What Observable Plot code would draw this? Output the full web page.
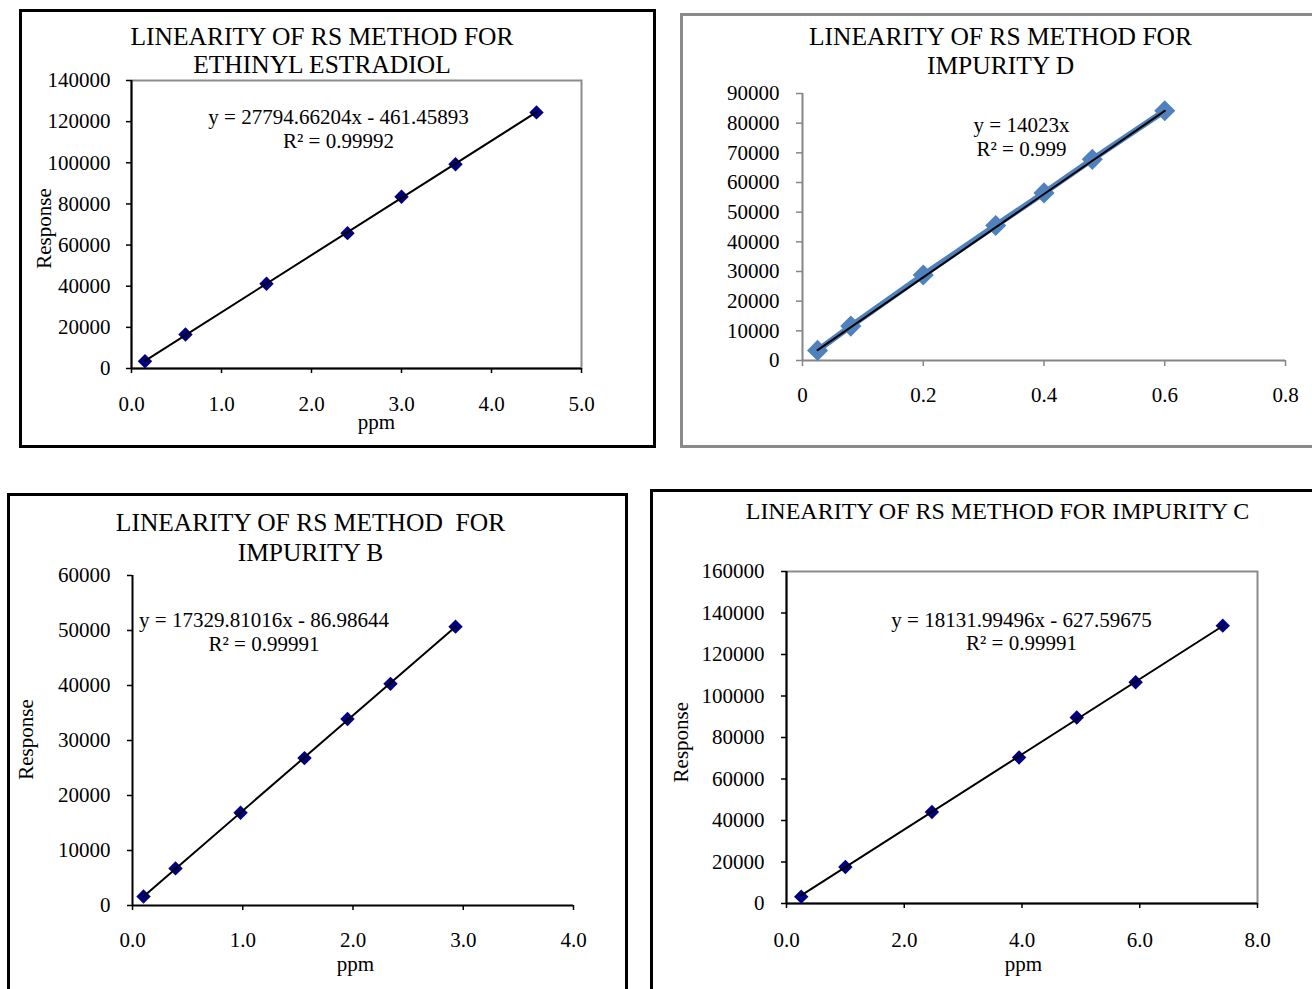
<!DOCTYPE html>
<html><head><meta charset="utf-8">
<script src="https://cdn.jsdelivr.net/npm/d3@7"></script>
<script src="https://cdn.jsdelivr.net/npm/@observablehq/plot@0.6"></script>
<style>
html,body{margin:0;padding:0;background:#fff;overflow:hidden;width:1312px;height:989px;}
.panel{position:absolute;box-sizing:border-box;}
.panel svg{position:absolute;max-width:none;}
</style></head><body>
<script>
// ---------- DATA ----------
// Ethinyl estradiol
const eeX = [0.15, 0.6, 1.5, 2.4, 3.0, 3.6, 4.5];
const eeY = [3500, 16500, 41200, 65800, 83500, 99300, 124500];
const eeTrend = [27794.66204, -461.45893];
const eeTitle = "LINEARITY OF RS METHOD FOR\nETHINYL ESTRADIOL";
const eeEq = "y = 27794.66204x - 461.45893\nR² = 0.99992";
const eeXTicks = [0, 1, 2, 3, 4, 5];
const eeYTicks = [0, 20000, 40000, 60000, 80000, 100000, 120000, 140000];

// Impurity D
const dX = [0.025, 0.08, 0.2, 0.32, 0.4, 0.48, 0.6];
const dY = [3400, 11600, 28800, 45500, 56500, 67800, 84200];
const dTrend = [140230, 0];
const dTitle = "LINEARITY OF RS METHOD FOR\nIMPURITY D";
const dEq = "y = 14023x\nR² = 0.999";
const dXTicks = [0, 0.2, 0.4, 0.6, 0.8];
const dYTicks = [0, 10000, 20000, 30000, 40000, 50000, 60000, 70000, 80000, 90000];

// Impurity B
const bX = [0.1, 0.39, 0.98, 1.56, 1.95, 2.34, 2.93];
const bY = [1650, 6750, 16850, 26800, 33900, 40300, 50700];
const bTrend = [17329.81016, -86.98644];
const bTitle = "LINEARITY OF RS METHOD  FOR\nIMPURITY B";
const bEq = "y = 17329.81016x - 86.98644\nR² = 0.99991";
const bXTicks = [0, 1, 2, 3, 4];
const bYTicks = [0, 10000, 20000, 30000, 40000, 50000, 60000];

// Impurity C
const cX = [0.25, 1.0, 2.47, 3.95, 4.93, 5.93, 7.41];
const cY = [3300, 17600, 44100, 70400, 89600, 106600, 133900];
const cTrend = [18131.99496, -627.59675];
const cTitle = "LINEARITY OF RS METHOD FOR IMPURITY C";
const cEq = "y = 18131.99496x - 627.59675\nR² = 0.99991";
const cXTicks = [0, 2, 4, 6, 8];
const cYTicks = [0, 20000, 40000, 60000, 80000, 100000, 120000, 140000, 160000];

const xLabel = "ppm";
const yLabel = "Response";

// ---------- LAYOUT ----------
const FONT = "'Liberation Serif','Times New Roman',serif";
const panels = [
  {x: eeX, y: eeY, trend: eeTrend, title: eeTitle, eq: eeEq, xTicks: eeXTicks, yTicks: eeYTicks,
   xFmt: d3.format(".1f"), box: {L: 19, T: 9, W: 637, H: 439, bw: 3, color: "#000"},
   f: {fl: 131, fr: 581, ft: 80, fb: 368}, xDomain: [0, 5], yDomain: [0, 140000],
   axisColor: "#000", plotBorder: true, tick: 5, xPad: 23, yPad: 16,
   titlePos: [321.5, 49.2, 25.5, 1.11], eqPos: [338, 127.5, 1.19],
   xLab: [376, 422], yLab: [44, 228], dot: {r: 6.5, fill: "#000080"}},
  {x: dX, y: dY, trend: dTrend, title: dTitle, eq: dEq, xTicks: dXTicks, yTicks: dYTicks,
   xFmt: d => String(d), box: {L: 680, T: 13, W: 650, H: 435, bw: 3, color: "#8a8a8a"},
   f: {fl: 802, fr: 1285, ft: 93, fb: 360}, xDomain: [0, 0.8], yDomain: [0, 90000],
   axisColor: "#868686", plotBorder: false, tick: 6, xPad: 21, yPad: 17,
   titlePos: [1000, 49.5, 25.5, 1.14], eqPos: [1021, 136, 1.16],
   xLab: null, yLab: null, dot: {r: 9.5, fill: "#4F81BD"}, seriesLine: true},
  {x: bX, y: bY, trend: bTrend, title: bTitle, eq: bEq, xTicks: bXTicks, yTicks: bYTicks,
   xFmt: d3.format(".1f"), box: {L: 7, T: 493, W: 621, H: 506, bw: 3, color: "#000"},
   f: {fl: 132, fr: 573, ft: 575, fb: 905}, xDomain: [0, 4], yDomain: [0, 60000],
   axisColor: "#000", plotBorder: false, tick: 5, xPad: 22, yPad: 17,
   titlePos: [310, 536, 25.5, 1.18], eqPos: [263.5, 630.75, 1.12],
   xLab: [355, 963.5], yLab: [25.5, 739], dot: {r: 6.5, fill: "#000080"}},
  {x: cX, y: cY, trend: cTrend, title: cTitle, eq: cEq, xTicks: cXTicks, yTicks: cYTicks,
   xFmt: d3.format(".1f"), box: {L: 650, T: 489, W: 672, H: 510, bw: 3, color: "#000"},
   f: {fl: 786, fr: 1257, ft: 571, fb: 903}, xDomain: [0, 8], yDomain: [0, 160000],
   axisColor: "#000", plotBorder: true, tick: 5, xPad: 24, yPad: 17,
   titlePos: [997, 510, 24, 1.1], eqPos: [1021, 630.5, 1.1],
   xLab: [1023, 963.5], yLab: [680.5, 741.7], dot: {r: 6.5, fill: "#000080"}}
];

function textAt(str, px, py, f, o) {
  return Plot.text([str], {frameAnchor: "top-left", dx: px - f.fl, dy: py - f.ft, text: d => d,
    textAnchor: "middle", lineAnchor: "middle", fill: "black", ...o});
}

for (const p of panels) {
  const {L, T, W, H, bw, color} = p.box;
  const f = p.f;
  const data = p.x.map((x, i) => ({x, y: p.y[i]}));
  const x0 = d3.min(p.x), x1 = d3.max(p.x);
  const trendData = [x0, x1].map(x => ({x, y: p.trend[0] * x + p.trend[1]}));
  const marks = [];
  if (p.plotBorder) marks.push(Plot.frame({stroke: "#8c8c8c", strokeWidth: 2}));
  marks.push(Plot.ruleX([0], {stroke: p.axisColor, strokeWidth: 2}));
  marks.push(Plot.ruleY([0], {stroke: p.axisColor, strokeWidth: 2}));
  marks.push(Plot.axisX({ticks: p.xTicks, tickFormat: p.xFmt, tickSize: p.tick, tickPadding: p.xPad,
    label: null, stroke: p.axisColor, fill: "black", strokeWidth: 1.5, fontSize: 21}));
  marks.push(Plot.axisY({ticks: p.yTicks, tickFormat: d => String(d), tickSize: p.tick, tickPadding: p.yPad,
    label: null, stroke: p.axisColor, fill: "black", strokeWidth: 1.5, fontSize: 21}));
  if (p.seriesLine) marks.push(Plot.line(data, {x: "x", y: "y", stroke: "#4F81BD", strokeWidth: 6}));
  marks.push(Plot.dot(data, {x: "x", y: "y", symbol: "diamond2", r: p.dot.r, fill: p.dot.fill, stroke: "none"}));
  marks.push(Plot.line(trendData, {x: "x", y: "y", stroke: "black", strokeWidth: 2}));
  marks.push(textAt(p.title, p.titlePos[0], p.titlePos[1], f, {fontSize: p.titlePos[2], lineHeight: p.titlePos[3]}));
  marks.push(textAt(p.eq, p.eqPos[0], p.eqPos[1], f, {fontSize: 21, lineHeight: p.eqPos[2]}));
  if (p.xLab) marks.push(textAt(xLabel, p.xLab[0], p.xLab[1], f, {fontSize: 21}));
  if (p.yLab) marks.push(textAt(yLabel, p.yLab[0], p.yLab[1], f, {fontSize: 21, rotate: -90}));

  const svg = Plot.plot({
    width: W, height: H,
    marginLeft: f.fl - L, marginRight: L + W - f.fr,
    marginTop: f.ft - T, marginBottom: T + H - f.fb,
    x: {domain: p.xDomain, nice: false},
    y: {domain: p.yDomain, nice: false},
    style: {fontFamily: FONT, fontSize: "21px", background: "transparent", color: "black", overflow: "visible"},
    marks
  });
  const div = document.createElement("div");
  div.className = "panel";
  Object.assign(div.style, {left: L + "px", top: T + "px", width: W + "px", height: H + "px",
    border: `${bw}px solid ${color}`});
  svg.style.left = -bw + "px";
  svg.style.top = -bw + "px";
  svg.style.maxWidth = "none";
  svg.style.width = W + "px";
  svg.style.height = H + "px";
  div.appendChild(svg);
  document.body.appendChild(div);
}
</script>
</body></html>
